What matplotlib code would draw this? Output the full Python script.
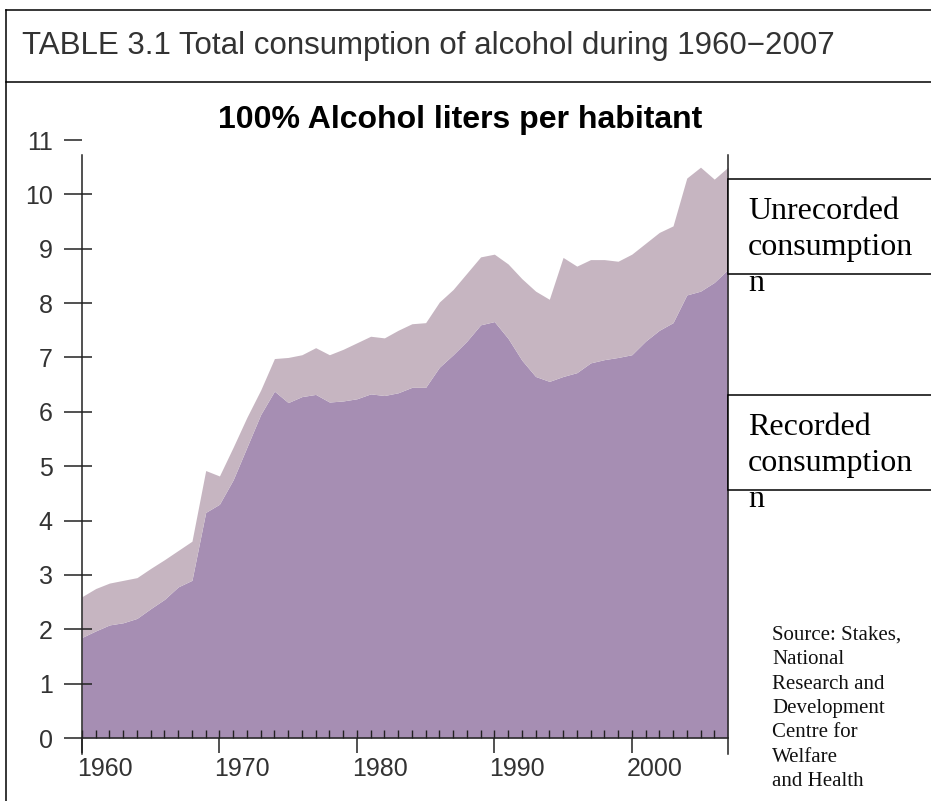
import matplotlib.pyplot as plt
from matplotlib.patches import Rectangle
from matplotlib.lines import Line2D
import matplotlib.transforms as mtransforms

# DATA --- litres of 100% alcohol per inhabitant
years = list(range(1960, 2008))
recorded = [1.85, 1.97, 2.08, 2.12, 2.20, 2.38, 2.55, 2.78, 2.90, 4.15,
            4.30, 4.75, 5.35, 5.95, 6.38, 6.17, 6.28, 6.32, 6.18, 6.20,
            6.24, 6.33, 6.30, 6.35, 6.45, 6.45, 6.82, 7.05, 7.30, 7.60,
            7.66, 7.35, 6.95, 6.65, 6.56, 6.65, 6.72, 6.90, 6.96, 7.00,
            7.05, 7.30, 7.50, 7.64, 8.15, 8.22, 8.38, 8.62]
total = [2.60, 2.75, 2.85, 2.90, 2.95, 3.12, 3.28, 3.45, 3.62, 4.92,
         4.82, 5.35, 5.90, 6.40, 6.98, 7.00, 7.05, 7.18, 7.05, 7.15,
         7.27, 7.39, 7.36, 7.50, 7.62, 7.64, 8.02, 8.25, 8.55, 8.85,
         8.90, 8.72, 8.45, 8.22, 8.07, 8.84, 8.68, 8.80, 8.80, 8.77,
         8.90, 9.10, 9.30, 9.42, 10.30, 10.50, 10.28, 10.50]
y_ticks = list(range(0, 12))
x_major = [1960, 1970, 1980, 1990, 2000]

main_title = "TABLE 3.1 Total consumption of alcohol during 1960\u22122007"
chart_title = "100% Alcohol liters per habitant"
unrec_label = "Unrecorded\nconsumption\nn"
rec_label = "Recorded\nconsumption\nn"
source_text = "Source: Stakes,\nNational\nResearch and\nDevelopment\nCentre for\nWelfare\nand Health"

rec_color = '#a68eb3'
unrec_color = '#c6b5c1'
ink = '#222222'

W, H = 931, 801
fig = plt.figure(figsize=(W / 100, H / 100), dpi=100)


def fx(x):
    return x / W


def fy(y):
    return 1 - y / H


# plot area: 1960 at x=82, 2007 at x=728, 0 at y=738, 11 at y=140
ax = fig.add_axes([fx(82), fy(738), fx(728) - fx(82), fy(140) - fy(738)])
ax.fill_between(years, 0, recorded, color=rec_color, lw=0)
ax.fill_between(years, recorded, total, color=unrec_color, lw=0)
ax.set_xlim(1960, 2007)
ax.set_ylim(0, 11)
ax.patch.set_visible(False)

ax.spines['top'].set_visible(False)
for side in ['left', 'right']:
    ax.spines[side].set_bounds(-0.3, 10.72)
    ax.spines[side].set_linewidth(1.1)
    ax.spines[side].set_color(ink)
ax.spines['bottom'].set_linewidth(1.1)
ax.spines['bottom'].set_color(ink)

ax.yaxis.remove_overlapping_locs = False
ax.xaxis.remove_overlapping_locs = False
ax.set_yticks(y_ticks)
ax.set_yticks(y_ticks[1:-1], minor=True)
ax.tick_params(axis='y', which='major', direction='out', length=13, width=1.1,
               color=ink, pad=8, labelsize=18, labelcolor='#333333')
ax.tick_params(axis='y', which='minor', direction='in', length=7, width=1.1, color=ink)

ax.set_xticks(x_major)
ax.set_xticks(years[:-1], minor=True)
ax.tick_params(axis='x', which='major', direction='out', length=11, width=1.1,
               color=ink, pad=3, labelsize=18, labelcolor='#333333')
ax.tick_params(axis='x', which='minor', direction='in', length=6, width=1.0, color=ink)
shift = mtransforms.ScaledTranslation(-5 / 100, 0, fig.dpi_scale_trans)
for lab in ax.get_xticklabels():
    lab.set_horizontalalignment('left')
    lab.set_transform(lab.get_transform() + shift)
for lab in ax.get_xticklabels() + ax.get_yticklabels():
    lab.set_fontfamily('Liberation Sans')

# frame and title box
fig.add_artist(Line2D([fx(6), fx(6)], [fy(10), fy(H + 5)], color='black', lw=1.1))
fig.add_artist(Line2D([fx(6), fx(W + 5)], [fy(10), fy(10)], color='black', lw=1.1))
fig.add_artist(Line2D([fx(6), fx(W + 5)], [fy(82), fy(82)], color='black', lw=1.1))
fig.text(fx(22), fy(46), main_title, fontsize=22.5, family='Liberation Sans',
         color='#333333', ha='left', va='center')
fig.text(fx(460), fy(120), chart_title, fontsize=23, family='Liberation Sans',
         fontweight='bold', color='black', ha='center', va='center')

# series label boxes
for top, bottom, label in [(179, 274, unrec_label), (395, 490, rec_label)]:
    fig.add_artist(Rectangle((fx(728), fy(bottom)), fx(300), fy(top) - fy(bottom),
                             transform=fig.transFigure, facecolor='white',
                             edgecolor='black', lw=1.1))
    fig.text(fx(748), fy(top + 18), label, fontsize=23, family='Liberation Serif',
             color='black', ha='left', va='top', linespacing=1.32)

fig.text(fx(772), fy(626), source_text, fontsize=15, family='Liberation Serif',
         color='#111111', ha='left', va='top', linespacing=1.38)

fig.savefig('out.png', dpi=100)
